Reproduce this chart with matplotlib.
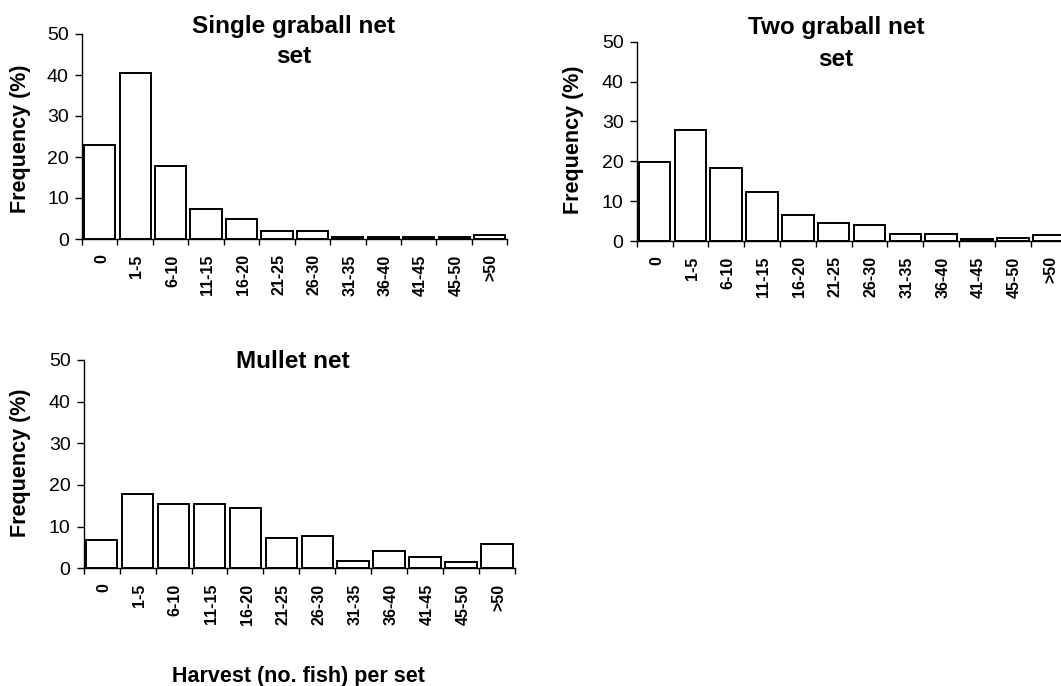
import matplotlib
matplotlib.use("Agg")
import matplotlib.pyplot as plt
from matplotlib import font_manager
from matplotlib.ticker import FixedLocator, NullFormatter
import numpy as np

categories = ["0", "1-5", "6-10", "11-15", "16-20", "21-25", "26-30",
              "31-35", "36-40", "41-45", "45-50", ">50"]
single_graball = [23.0, 40.4, 17.9, 7.3, 5.0, 1.9, 1.9, 0.4, 0.4, 0.4, 0.4, 0.9]
two_graball = [19.7, 27.8, 18.3, 12.3, 6.5, 4.6, 4.1, 1.8, 1.8, 0.4, 0.8, 1.4]
mullet = [6.8, 17.8, 15.4, 15.4, 14.5, 7.3, 7.8, 1.8, 4.2, 2.7, 1.4, 5.8]
yticks = [0, 10, 20, 30, 40, 50]

plt.rcParams["font.family"] = ["Liberation Sans", "DejaVu Sans"]

installed = {f.name for f in font_manager.fontManager.ttflist}
if "Liberation Sans Narrow" in installed:
    cat_family, cat_size = ["Liberation Sans Narrow", "Liberation Sans"], 14.5
else:
    cat_family, cat_size = ["Liberation Sans", "DejaVu Sans"], 11.5

W, H = 1061, 686
fig = plt.figure(figsize=(W / 100, H / 100), dpi=100)


def px_axes(x0, x1, y_top, y_zero):
    return fig.add_axes([x0 / W, (H - y_zero) / H, (x1 - x0) / W, (y_zero - y_top) / H])


def draw_panel(ax, values):
    x = np.arange(len(categories))
    ax.bar(x, values, width=0.88, color="white", edgecolor="black",
           linewidth=1.4, zorder=3)
    ax.set_xlim(-0.5, len(categories) - 0.5)
    ax.set_ylim(0, 50)
    for side in ("top", "right"):
        ax.spines[side].set_visible(False)
    for side in ("left", "bottom"):
        ax.spines[side].set_linewidth(1.0)
        ax.spines[side].set_color("black")
    ax.set_yticks(yticks)
    ax.tick_params(axis="y", direction="out", length=5, width=1.0,
                   labelsize=14, pad=4.5)
    # category labels at bar centres, tick marks at the bin boundaries
    ax.set_xticks(x + 0.05)
    ax.set_xticklabels(categories, rotation=90, ha="center", va="top",
                       fontweight="bold", fontsize=cat_size, family=cat_family)
    ax.tick_params(axis="x", which="major", length=0, pad=11)
    ax.xaxis.set_minor_locator(FixedLocator(np.arange(len(categories) + 1) - 0.5))
    ax.xaxis.set_minor_formatter(NullFormatter())
    ax.tick_params(axis="x", which="minor", direction="out", length=4.5, width=1.0)


ax1 = px_axes(82, 507.3, 34, 239)
draw_panel(ax1, single_graball)
ax2 = px_axes(636.7, 1066.5, 41.7, 241)
draw_panel(ax2, two_graball)
ax3 = px_axes(83.7, 515, 360, 568.3)
draw_panel(ax3, mullet)


def ftext(x, y, s, **kw):
    fig.text(x / W, (H - y) / H, s, **kw)


title_kw = dict(ha="center", va="baseline", fontsize=17.5, fontweight="bold")
ftext(294, 33, "Single graball net", **title_kw)
ftext(294, 63, "set", **title_kw)
ftext(836, 34.3, "Two graball net", **title_kw)
ftext(836, 65.7, "set", **title_kw)
ftext(293.3, 367.7, "Mullet net", **title_kw)

ylab_kw = dict(ha="center", va="center", rotation=90, fontsize=15.5,
               fontweight="bold")
ftext(20.5, 139, "Frequency (%)", **ylab_kw)
ftext(573, 140, "Frequency (%)", **ylab_kw)
ftext(20.5, 462.5, "Frequency (%)", **ylab_kw)

ftext(298.8, 681.7, "Harvest (no. fish) per set", ha="center", va="baseline",
      fontsize=15.5, fontweight="bold")

fig.savefig("out.png", dpi=100, facecolor="white")
